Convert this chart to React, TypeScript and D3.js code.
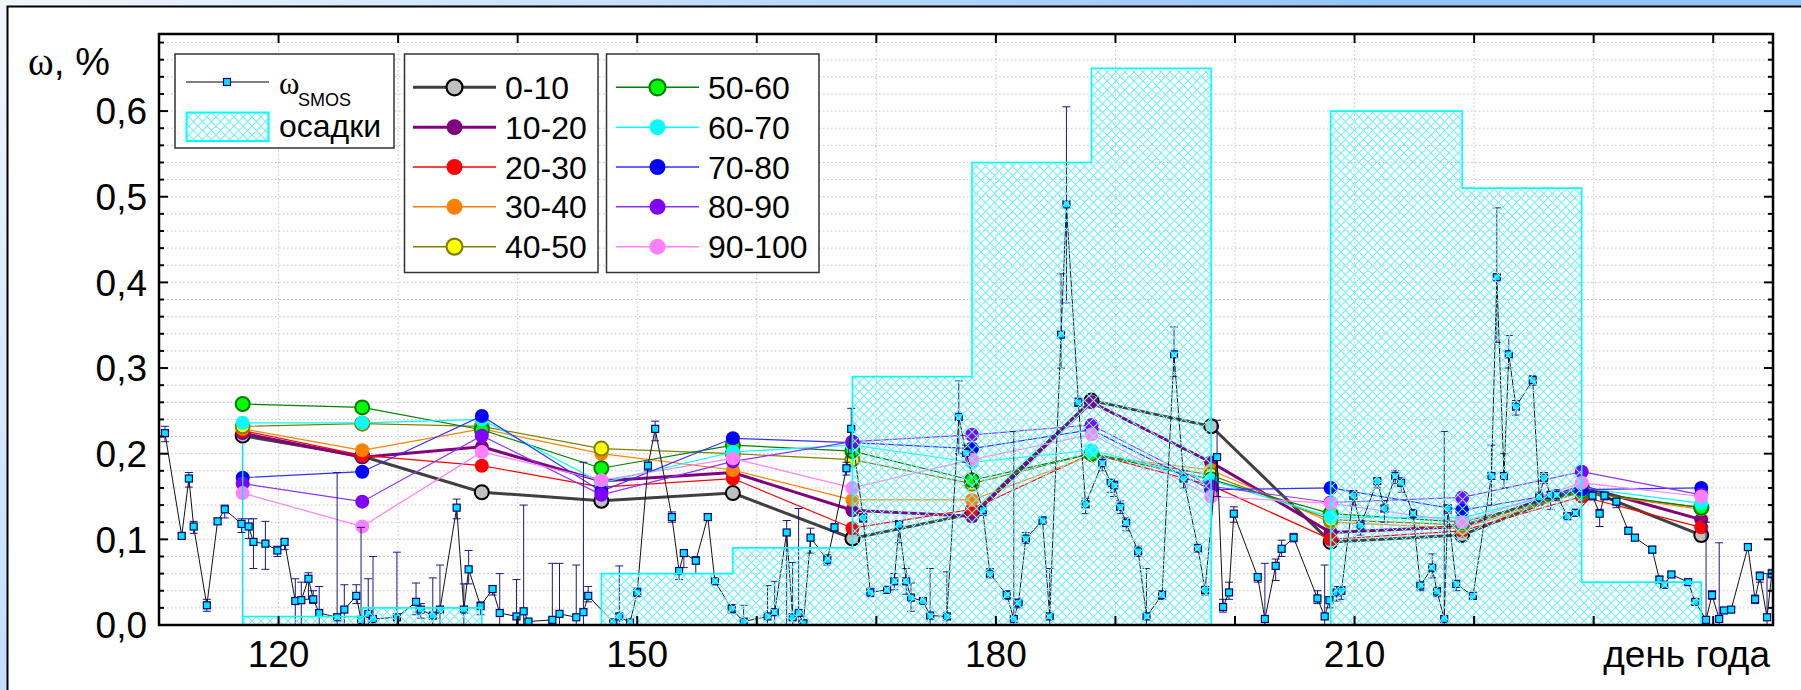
import React from "react";
import * as d3 from "d3";

// soil moisture by depth layer, sampled on these days
const depthDays = [117, 127, 137, 147, 158, 168, 178, 188, 198, 208, 219, 229, 239];
const layer0_10 = [0.221, 0.197, 0.155, 0.145, 0.154, 0.101, 0.13, 0.262, 0.232, 0.097, 0.105, 0.16, 0.105];
const layer10_20 = [0.224, 0.196, 0.208, 0.168, 0.178, 0.134, 0.127, 0.26, 0.19, 0.108, 0.115, 0.162, 0.123];
const layer20_30 = [0.227, 0.198, 0.186, 0.161, 0.171, 0.113, 0.135, 0.2, 0.163, 0.1, 0.11, 0.15, 0.114];
const layer30_40 = [0.229, 0.204, 0.229, 0.2, 0.181, 0.146, 0.146, 0.198, 0.181, 0.12, 0.113, 0.155, 0.135];
const layer40_50 = [0.232, 0.235, 0.232, 0.206, 0.2, 0.193, 0.165, 0.2, 0.175, 0.123, 0.117, 0.155, 0.137];
const layer50_60 = [0.258, 0.254, 0.228, 0.183, 0.21, 0.203, 0.169, 0.2, 0.17, 0.13, 0.12, 0.156, 0.137];
const layer60_70 = [0.236, 0.236, 0.24, 0.166, 0.202, 0.21, 0.19, 0.204, 0.169, 0.126, 0.125, 0.16, 0.142];
const layer70_80 = [0.172, 0.179, 0.244, 0.156, 0.218, 0.213, 0.206, 0.228, 0.158, 0.16, 0.134, 0.158, 0.16];
const layer80_90 = [0.165, 0.144, 0.221, 0.152, 0.191, 0.214, 0.222, 0.2335, 0.162, 0.143, 0.149, 0.179, 0.152];
const layer90_100 = [0.154, 0.115, 0.202, 0.169, 0.1945, 0.16, 0.193, 0.2226, 0.15, 0.142, 0.12, 0.166, 0.15];

// precipitation steps (start day -> value), last entry closes the histogram
const precipDays = [117, 127, 137, 147, 158, 168, 178, 188, 198, 208, 219, 229, 239];
const precipVals = [0.01, 0.02, 0, 0.06, 0.09, 0.29, 0.54, 0.65, 0, 0.6, 0.51, 0.05, 0];

// SMOS retrievals with error bar bounds
const smosDay = [
  110.5, 111.9, 112.5, 112.9, 114.0, 114.9, 115.5, 116.9, 117.5, 117.9, 118.9, 119.9, 120.5, 121.4, 121.9,
  122.5, 122.9, 123.4, 124.9, 125.5, 126.5, 126.9, 127.5, 127.9, 129.9, 131.5, 131.9, 132.9, 133.5, 134.9,
  135.5, 135.9, 136.9, 137.9, 138.5, 139.9, 140.5, 140.9, 142.9, 143.5, 144.9, 145.5, 145.9, 148.0, 148.5,
  149.4, 150.0, 150.9, 151.5, 152.9, 153.5, 153.9, 154.9, 155.9, 156.5, 157.9, 158.9, 160.9, 161.5, 162.5,
  163.0, 163.5, 163.9, 164.5, 165.9, 166.5, 167.5, 167.9, 168.9, 169.5, 170.9, 171.5, 171.9, 172.5, 172.9,
  173.9, 174.5, 175.9, 176.9, 177.5, 178.9, 179.5, 180.9, 181.5, 181.9, 182.5, 183.9, 184.5, 185.45, 185.9,
  186.9, 187.5, 188.9, 189.6, 189.9, 190.4, 190.9, 191.9, 192.6, 193.9, 194.9, 195.7, 196.9, 197.5, 198.5,
  199.0, 199.5, 199.9, 201.9, 202.5, 203.4, 203.9, 204.9, 206.9, 207.5, 207.9, 208.5, 208.9, 209.9, 210.5,
  211.9, 212.5, 213.4, 213.9, 214.9, 215.5, 216.5, 216.9, 217.5, 217.8, 218.5, 219.9, 221.45, 221.9, 222.5,
  222.9, 223.5, 224.9, 225.45, 225.85, 226.4, 226.9, 227.8, 228.5, 229.9, 230.5, 230.9, 231.9, 232.9, 233.45,
  234.9, 235.5, 235.9, 236.5, 237.9, 238.5, 239.4, 239.9, 240.5, 240.9, 241.5, 242.9, 243.5, 243.9, 244.5, 244.9,
];
const smosVal = [
  0.224, 0.104, 0.171, 0.115, 0.023, 0.121, 0.135, 0.118, 0.115, 0.097, 0.095, 0.087, 0.097, 0.028, 0.029,
  0.054, 0.03, 0.014, 0.009, 0.018, 0.034, 0.006, 0.013, 0.007, 0.009, 0.027, 0.018, 0.011, 0.018, 0.137,
  0.018, 0.065, 0.022, 0.042, 0.014, 0.01, 0.016, 0.004, 0.006, 0.013, 0.009, 0.015, 0.034, 0.003, 0.01,
  0.003, 0.038, 0.186, 0.229, 0.126, 0.063, 0.084, 0.075, 0.126, 0.051, 0.019, 0.004, 0.01, 0.015, 0.108,
  0.009, 0.014, 0.002, 0.102, 0.076, 0.114, 0.183, 0.229, 0.125, 0.038, 0.041, 0.051, 0.117, 0.051, 0.032,
  0.028, 0.011, 0.01, 0.243, 0.201, 0.134, 0.06, 0.035, 0.007, 0.026, 0.101, 0.122, 0.01, 0.339, 0.491,
  0.26, 0.141, 0.189, 0.166, 0.163, 0.138, 0.119, 0.086, 0.01, 0.035, 0.316, 0.171, 0.09, 0.041, 0.196,
  0.021, 0.038, 0.13, 0.056, 0.007, 0.069, 0.089, 0.102, 0.031, 0.01, 0.029, 0.038, 0.04, 0.151, 0.116,
  0.168, 0.136, 0.174, 0.166, 0.13, 0.046, 0.067, 0.039, 0.007, 0.136, 0.048, 0.034, 0.174, 0.406, 0.174,
  0.316, 0.255, 0.286, 0.149, 0.172, 0.152, 0.152, 0.127, 0.131, 0.151, 0.13, 0.151, 0.144, 0.11, 0.102,
  0.088, 0.053, 0.047, 0.059, 0.05, 0.027, 0.006, 0.035, 0.007, 0.017, 0.018, 0.091, 0.03, 0.057, 0.009, 0.06,
];
const smosLo = [
  0.214, 0.101, 0.161, 0.107, 0.016, 0.118, 0.125, 0.108, 0.101, 0.066, 0.065, 0.08, 0.088, 0, 0,
  0.03, 0.025, 0, 0, 0, 0.025, 0, 0, 0, 0, 0.012, 0.008, 0, 0, 0.124,
  0, 0.048, 0.012, 0.035, 0, 0, 0, 0, 0, 0, 0, 0, 0.027, 0, 0,
  0, 0.033, 0.18, 0.215, 0.12, 0.053, 0.067, 0.06, 0.123, 0.048, 0.014, 0, 0, 0, 0,
  0, 0, 0, 0.084, 0.07, 0.11, 0.175, 0.2, 0.12, 0.033, 0.038, 0.041, 0.096, 0.036, 0.016,
  0.024, 0, 0, 0.2, 0.19, 0.128, 0.055, 0.03, 0, 0.02, 0.095, 0.118, 0, 0.3, 0.376,
  0.255, 0.13, 0.18, 0.155, 0.15, 0.13, 0.11, 0.08, 0, 0.03, 0.29, 0.16, 0.085, 0.035, 0.15,
  0.015, 0.03, 0.12, 0.05, 0, 0.052, 0.08, 0.097, 0.025, 0, 0.02, 0.028, 0.03, 0.14, 0.105,
  0.16, 0.12, 0.165, 0.155, 0.125, 0.04, 0.055, 0.033, 0, 0.13, 0.04, 0.03, 0.14, 0.33, 0.16,
  0.3, 0.245, 0.28, 0.14, 0.165, 0.135, 0.145, 0.125, 0.128, 0.146, 0.115, 0.146, 0.137, 0.106, 0.099,
  0.084, 0.05, 0.044, 0.056, 0.047, 0.024, 0, 0.03, 0, 0.014, 0.015, 0.088, 0.025, 0.05, 0, 0.055,
];
const smosHi = [
  0.232, 0.107, 0.178, 0.121, 0.03, 0.124, 0.14, 0.124, 0.124, 0.124, 0.121, 0.092, 0.1, 0.054, 0.05,
  0.061, 0.04, 0.045, 0.178, 0.047, 0.047, 0.114, 0.054, 0.08, 0.085, 0.049, 0.025, 0.055, 0.07, 0.147,
  0.048, 0.087, 0.027, 0.046, 0.06, 0.053, 0.14, 0.006, 0.072, 0.072, 0.07, 0.19, 0.045, 0.006, 0.069,
  0.006, 0.043, 0.19, 0.238, 0.132, 0.065, 0.085, 0.08, 0.13, 0.054, 0.024, 0.023, 0.046, 0.051, 0.122,
  0.073, 0.136, 0.005, 0.113, 0.082, 0.118, 0.19, 0.253, 0.13, 0.043, 0.044, 0.06, 0.122, 0.066, 0.049,
  0.032, 0.066, 0.062, 0.285, 0.21, 0.14, 0.066, 0.04, 0.226, 0.03, 0.108, 0.126, 0.066, 0.41, 0.605,
  0.265, 0.148, 0.195, 0.17, 0.168, 0.145, 0.125, 0.092, 0.066, 0.04, 0.348, 0.18, 0.094, 0.045, 0.239,
  0.03, 0.05, 0.138, 0.06, 0.072, 0.077, 0.099, 0.107, 0.04, 0.07, 0.033, 0.045, 0.045, 0.157, 0.122,
  0.17, 0.145, 0.18, 0.172, 0.135, 0.05, 0.083, 0.044, 0.226, 0.14, 0.052, 0.038, 0.21, 0.487, 0.2,
  0.338, 0.262, 0.291, 0.155, 0.178, 0.155, 0.158, 0.13, 0.135, 0.155, 0.135, 0.155, 0.148, 0.114, 0.105,
  0.092, 0.057, 0.05, 0.062, 0.053, 0.03, 0.12, 0.04, 0.096, 0.02, 0.021, 0.094, 0.035, 0.062, 0.06, 0.065,
];

const xTicks = d3.range(110, 250, 10);
const xLabels = [120, 150, 180, 210];
const yMajor = [0, 0.1, 0.2, 0.3, 0.4, 0.5, 0.6];
const yMinor = d3.range(0, 0.69, 0.02);

type Layer = { label: string; values: number[]; line: string; width: number; fill: string; stroke?: string };

const layers: Layer[] = [
  { label: "0-10", values: layer0_10, line: "#404040", width: 3, fill: "#c0c0c0", stroke: "#000" },
  { label: "10-20", values: layer10_20, line: "#800080", width: 3, fill: "#800080" },
  { label: "20-30", values: layer20_30, line: "#ff0000", width: 1.2, fill: "#ff0000" },
  { label: "30-40", values: layer30_40, line: "#ff8000", width: 1.2, fill: "#ff8000" },
  { label: "40-50", values: layer40_50, line: "#808000", width: 1.2, fill: "#ffff00", stroke: "#808000" },
  { label: "50-60", values: layer50_60, line: "#008000", width: 1.2, fill: "#00ff00", stroke: "#008000" },
  { label: "60-70", values: layer60_70, line: "#00ffff", width: 1.2, fill: "#00ffff" },
  { label: "70-80", values: layer70_80, line: "#3030ff", width: 1.2, fill: "#0000ff" },
  { label: "80-90", values: layer80_90, line: "#9030ff", width: 1.2, fill: "#8000ff" },
  { label: "90-100", values: layer90_100, line: "#ff80ff", width: 1.2, fill: "#ff80ff" },
];

const W = 1801;
const H = 690;
const left = 159;
const right = 1773;
const top = 34;
const bottom = 625;
const SANS = "'Liberation Sans', Arial, sans-serif";
const SERIF = "'Liberation Serif', 'Times New Roman', serif";

export default function App() {
  const x = d3.scaleLinear().domain([110, 245]).range([left, right]);
  const y = d3.scaleLinear().domain([0, 0.69]).range([bottom, top]);

  const smos = smosDay.map((d, i) => ({ d, v: smosVal[i], lo: smosLo[i], hi: smosHi[i] }));
  const smosLine = d3.line<{ d: number; v: number }>().x((p) => x(p.d)).y((p) => y(p.v));

  const precip = precipDays.map((d, i) => ({ d, v: precipVals[i] }));
  const precipArea = d3
    .area<{ d: number; v: number }>()
    .curve(d3.curveStepAfter)
    .x((p) => x(p.d))
    .y0(y(0))
    .y1((p) => y(p.v));

  const layerLine = d3.line<number>().x((_, i) => x(depthDays[i])).y((v) => y(v));

  const rowY = (i: number) => 87.3 + i * 39.85;

  const legendRow = (l: Layer, i: number, x0: number) => (
    <g key={l.label}>
      <line x1={x0} x2={x0 + 83} y1={rowY(i)} y2={rowY(i)} stroke={l.line} strokeWidth={l.width === 3 ? 3 : 1.5} />
      <circle cx={x0 + 41.5} cy={rowY(i)} r={8} fill={l.fill} stroke={l.stroke ?? "none"} strokeWidth={2.2} />
      <text x={x0 + 92} y={rowY(i) + 11.5} fontSize={32} fontFamily={SANS}>
        {l.label}
      </text>
    </g>
  );

  return (
    <div style={{ width: W, height: H }}>
      <svg width={W} height={H} style={{ position: "absolute", left: 0, top: 0 }}>
        <defs>
          <linearGradient id="bg" gradientUnits="userSpaceOnUse" x1={0} y1={0} x2={700} y2={690}>
            <stop offset="0" stopColor="#f2f7fe" />
            <stop offset="1" stopColor="#93c5fa" />
          </linearGradient>
          <pattern id="hatch" patternUnits="userSpaceOnUse" width={9} height={9}>
            <path d="M0,0 L9,9 M9,0 L0,9" stroke="#6ff2ff" strokeWidth={1.1} />
          </pattern>
          <clipPath id="plot">
            <rect x={left} y={top} width={right - left} height={bottom - top} />
          </clipPath>
        </defs>

        <rect x={0} y={0} width={W} height={H} fill="url(#bg)" />
        <rect x={7.5} y={6.5} width={W} height={H} fill="#fff" stroke="#000" strokeWidth={2} />

        {/* grid */}
        <g stroke="#c4c4c4" strokeWidth={1} strokeDasharray="1.5,2.5">
          {xTicks.map((t) => (
            <line key={"gx" + t} x1={x(t)} x2={x(t)} y1={top} y2={bottom} />
          ))}
          {yMinor.map((t) => (
            <line key={"gy" + t} x1={left} x2={right} y1={y(t)} y2={y(t)} />
          ))}
        </g>

        <g clipPath="url(#plot)">
          {/* depth layers */}
          {layers.map((l) => (
            <g key={l.label}>
              <path d={layerLine(l.values) ?? ""} fill="none" stroke={l.line} strokeWidth={l.width} />
              {l.values.map((v, i) => (
                <circle
                  key={i}
                  cx={x(depthDays[i])}
                  cy={y(v)}
                  r={7}
                  fill={l.fill}
                  stroke={l.stroke ?? "none"}
                  strokeWidth={2}
                />
              ))}
            </g>
          ))}
          <line
            x1={x(depthDays[0])}
            x2={x(depthDays[0])}
            y1={y(layer60_70[0] - 0.024)}
            y2={y(0)}
            stroke="#00e8ff"
            strokeWidth={1.5}
          />

          {/* SMOS */}
          <g stroke="#18188a" strokeWidth={1}>
            {smos.map((p, i) => (
              <g key={i}>
                <line x1={x(p.d)} x2={x(p.d)} y1={y(p.lo)} y2={y(p.hi)} />
                <line x1={x(p.d) - 4} x2={x(p.d) + 4} y1={y(p.hi)} y2={y(p.hi)} />
                <line x1={x(p.d) - 4} x2={x(p.d) + 4} y1={y(p.lo)} y2={y(p.lo)} />
              </g>
            ))}
          </g>
          <path d={smosLine(smos) ?? ""} fill="none" stroke="#111" strokeWidth={1} />
          {smos.map((p, i) => (
            <rect
              key={i}
              x={x(p.d) - 3.5}
              y={y(p.v) - 3.5}
              width={7}
              height={7}
              fill="#00e5ff"
              stroke="#000080"
              strokeWidth={1.2}
            />
          ))}

          {/* precipitation */}
          <path d={precipArea(precip) ?? ""} fill="url(#hatch)" stroke="#00ffff" strokeWidth={1.6} />
        </g>

        {/* axes frame */}
        <rect x={left} y={top} width={right - left} height={bottom - top} fill="none" stroke="#000" strokeWidth={2.5} />
        <g stroke="#000" strokeWidth={2}>
          {xTicks.map((t) => (
            <g key={"xt" + t}>
              <line x1={x(t)} x2={x(t)} y1={top} y2={top + 9} />
              <line x1={x(t)} x2={x(t)} y1={bottom} y2={bottom - 9} />
            </g>
          ))}
          {yMinor.map((t) => {
            const major = yMajor.some((m) => Math.abs(m - t) < 1e-6);
            const len = major ? 9 : 5;
            return (
              <g key={"yt" + t}>
                <line x1={left} x2={left + len} y1={y(t)} y2={y(t)} />
                <line x1={right} x2={right - len} y1={y(t)} y2={y(t)} />
              </g>
            );
          })}
        </g>

        {/* tick labels */}
        {yMajor.map((t) => (
          <text key={"yl" + t} x={147} y={y(t)} dy="0.36em" textAnchor="end" fontSize={37} fontFamily={SANS}>
            {t.toFixed(1).replace(".", ",")}
          </text>
        ))}
        {xLabels.map((t) => (
          <text key={"xl" + t} x={x(t)} y={667} textAnchor="middle" fontSize={37} fontFamily={SANS}>
            {t}
          </text>
        ))}
        <text x={28} y={75} fontSize={39} fontFamily={SANS}>
          <tspan fontFamily={SERIF}>ω</tspan>, %
        </text>
        <text x={1770} y={667} textAnchor="end" fontSize={37} fontFamily={SANS}>
          день года
        </text>

        {/* legends */}
        <rect x={175} y={54} width={219} height={94} fill="#fff" stroke="#333" strokeWidth={1.5} />
        <line x1={186} x2={269} y1={82} y2={82} stroke="#555" strokeWidth={1.5} />
        <rect x={223.5} y={78.5} width={7} height={7} fill="#00e5ff" stroke="#000080" strokeWidth={1.2} />
        <text x={279} y={94} fontSize={31} fontFamily={SERIF}>
          ω
        </text>
        <text x={298} y={106} fontSize={18} fontFamily={SANS}>
          SMOS
        </text>
        <rect x={186.5} y={112.5} width={82} height={28.5} fill="url(#hatch)" stroke="#00ffff" strokeWidth={2} />
        <text x={279} y={137} fontSize={32} fontFamily={SANS}>
          осадки
        </text>

        <rect x={404.5} y={54} width={193.5} height={218.5} fill="#fff" stroke="#333" strokeWidth={1.5} />
        {layers.slice(0, 5).map((l, i) => legendRow(l, i, 413))}

        <rect x={606.5} y={54} width={212.5} height={218.5} fill="#fff" stroke="#333" strokeWidth={1.5} />
        {layers.slice(5).map((l, i) => legendRow(l, i, 616))}
      </svg>
    </div>
  );
}
